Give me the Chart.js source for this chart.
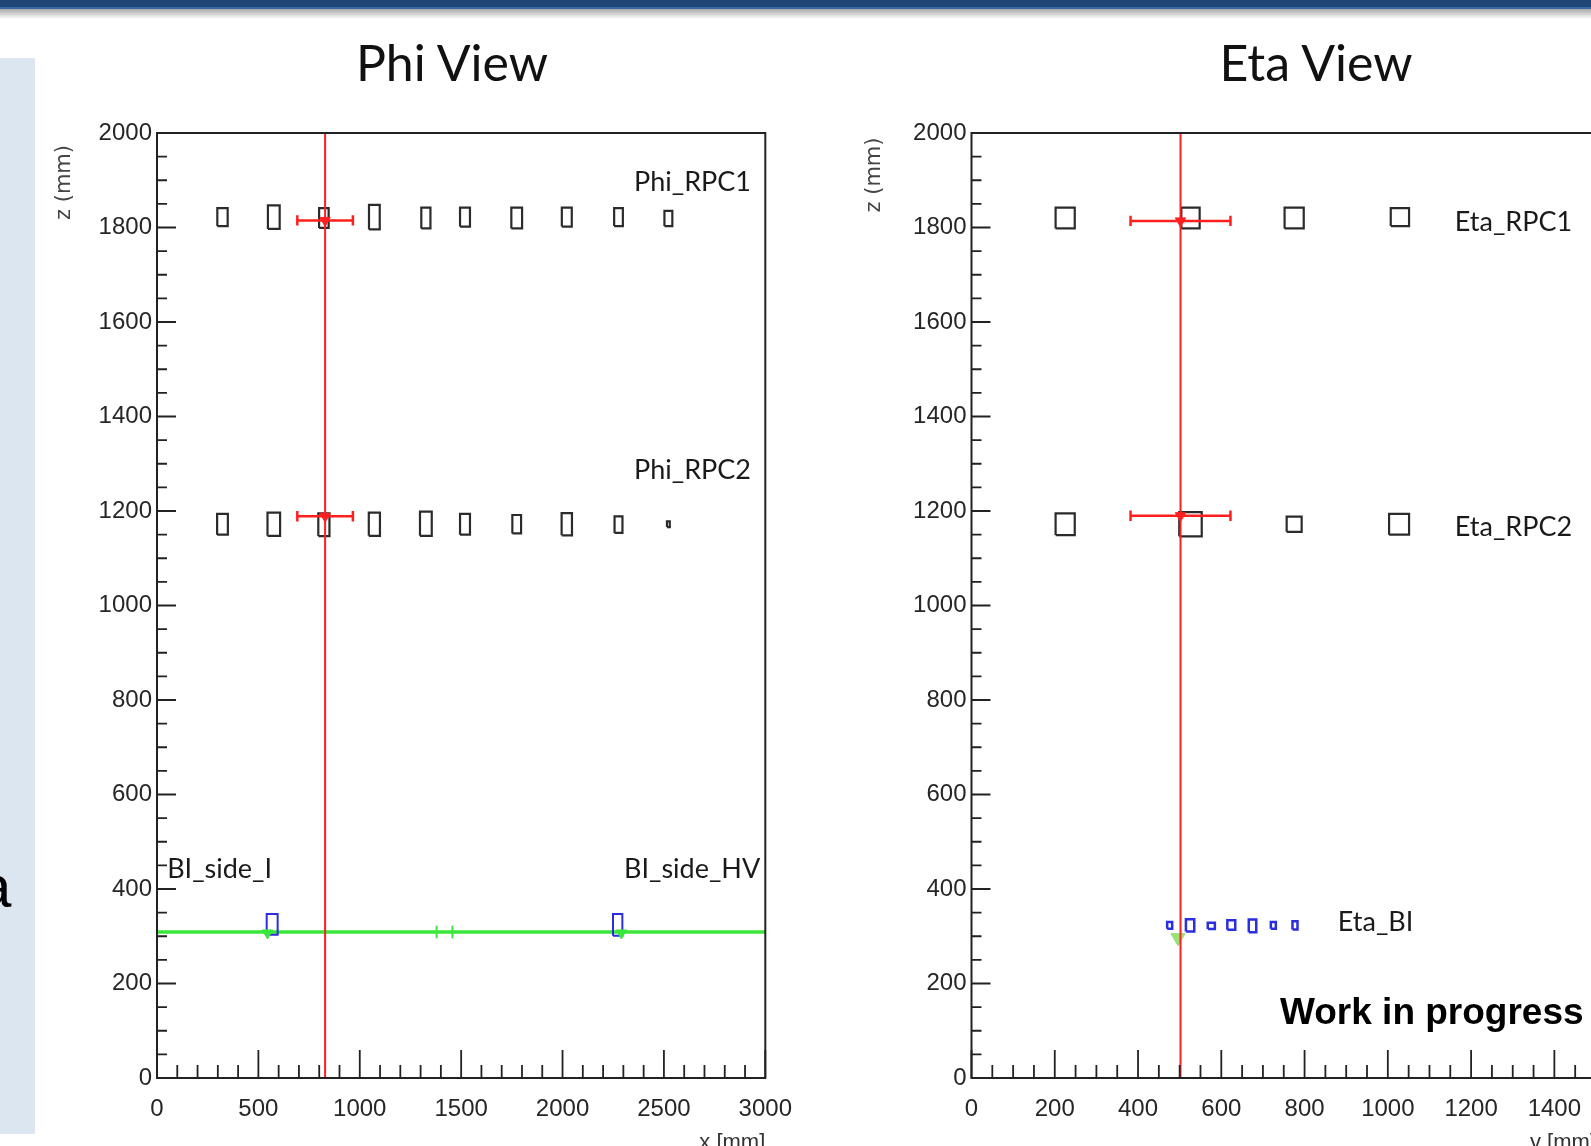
<!DOCTYPE html>
<html>
<head>
<meta charset="utf-8">
<script src="https://cdn.jsdelivr.net/npm/chart.js@4.4.1/dist/chart.umd.min.js"></script>
<style>
  html, body { margin: 0; padding: 0; width: 1591px; height: 1146px; overflow: hidden; background: #fff; }
  #topbar { position: absolute; left: 0; top: 0; width: 100%; height: 7px; background: #1f4677; border-bottom: 2px solid #3a67a5; }
  #shade { position: absolute; left: 0; top: 9px; width: 100%; height: 10px; background: linear-gradient(#a8a8a8, #ffffff); }
  #sidepanel { position: absolute; left: 0; top: 58px; width: 35px; height: 1076px; background: #dce6f1; }
  #sideword { position: absolute; left: -22px; top: 857px; font: 60px "Liberation Sans", Arial, sans-serif; line-height: 1; color: #000; z-index: 3; }
  .view-title { position: absolute; top: 37px; font: 50px Lato, "Open Sans", sans-serif; line-height: 1; color: #111; transform: translateX(-50%); white-space: nowrap; z-index: 3; }
  canvas { position: absolute; top: 0; filter: blur(0.4px); }
  #phiChart { left: 0; }
  #etaChart { left: 800px; }
  #wip { position: absolute; left: 1280px; top: 993px; font: bold 37px "Liberation Sans", Arial, sans-serif; line-height: 1; color: #000; white-space: nowrap; z-index: 3; }
</style>
</head>
<body>
<div id="topbar"></div>
<div id="shade"></div>
<div id="sidepanel"></div>
<div id="sideword">a</div>
<div class="view-title" style="left:452px">Phi View</div>
<div class="view-title" style="left:1316px">Eta View</div>
<canvas id="phiChart" width="809" height="1160"></canvas>
<canvas id="etaChart" width="850" height="1160"></canvas>
<div id="wip">Work in progress</div>
<script>
// ----------------------------------------------------
// PHI VIEW DATA (x vs z, mm)
// ----------------------------------------------------
const phiRpc1X = [323, 576, 823, 1072, 1326, 1519, 1774, 2021, 2276, 2522];
const phiRpc1Z = [1822, 1822, 1820, 1822, 1820, 1822, 1820, 1822, 1822, 1819];
const phiRpc1W = [51, 58, 47, 53, 45, 49, 53, 49, 43, 39];
const phiRpc1H = [38, 50, 42, 52, 44, 40, 44, 40, 38, 32];

const phiRpc2X = [323, 576, 823, 1072, 1326, 1519, 1774, 2021, 2276, 2522];
const phiRpc2Z = [1172, 1172, 1171, 1172, 1173, 1172, 1172, 1172, 1171, 1172];
const phiRpc2W = [53, 62, 55, 55, 58, 49, 43, 51, 39, 14];
const phiRpc2H = [44, 49, 48, 49, 51, 44, 39, 47, 35, 12];

const phiBiX = [568, 2272];
const phiBiZ = [325, 324];
const phiBiW = [54, 46];
const phiBiH = [44, 46];

const phiTrackX = 829;
const phiFitX = [829, 829];
const phiFitZ = [1815, 1189];
const phiFitErr = [137, 137];

const phiBeamZ = 309;
const phiBeamHitX = [545, 2290];
const phiBeamHitZ = [307, 307];
const phiBeamErrX = [1418];
const phiBeamErr = [39];

// ----------------------------------------------------
// ETA VIEW DATA (y vs z, mm)
// ----------------------------------------------------
const etaRpc1X = [225, 526, 775, 1029];
const etaRpc1Z = [1820, 1820, 1820, 1822];
const etaRpc1W = [46, 44, 46, 44];
const etaRpc1H = [44, 44, 44, 38];

const etaRpc2X = [225, 526, 775, 1027];
const etaRpc2Z = [1172, 1172, 1172, 1172];
const etaRpc2W = [46, 54, 36, 48];
const etaRpc2H = [46, 51, 32, 44];

const etaBiX = [476, 525, 576, 624, 675, 725, 777];
const etaBiZ = [323, 323, 322, 324, 322, 323, 323];
const etaBiW = [12, 20, 17, 19, 18, 12, 12];
const etaBiH = [14, 26, 13, 20, 27, 14, 17];

const etaTrackX = 502;
const etaFitX = [502, 502];
const etaFitZ = [1814, 1190];
const etaFitErr = [120, 120];

const etaBeamHitX = [496];
const etaBeamHitZ = [297];

// Axis ranges / tick steps
const zRange = [0, 2000];
const phiXRange = [0, 3000];
const etaXRange = [0, 1500];

// Text annotations anchored in data coords
const phiNotes = [
  { text: 'Phi_RPC1', x: 2353, z: 1896 },
  { text: 'Phi_RPC2', x: 2353, z: 1287 },
  { text: 'BI_side_I', x: 50, z: 441 },
  { text: 'BI_side_HV', x: 2303, z: 441 }
];
const etaNotes = [
  { text: 'Eta_RPC1', x: 1161, z: 1812 },
  { text: 'Eta_RPC2', x: 1161, z: 1165 },
  { text: 'Eta_BI', x: 880, z: 329 }
];

// ----------------------------------------------------
// HELPERS
// ----------------------------------------------------
const GAP = { x: NaN, y: NaN };

function boxOutlines(xs, zs, ws, hs) {
  const pts = [];
  xs.forEach((x, i) => {
    const hw = ws[i] / 2, hh = hs[i] / 2, z = zs[i];
    pts.push({ x: x - hw, y: z - hh }, { x: x + hw, y: z - hh }, { x: x + hw, y: z + hh },
             { x: x - hw, y: z + hh }, { x: x - hw, y: z - hh }, GAP);
  });
  return pts;
}

function errorBars(xs, zs, errs, cap) {
  const pts = [];
  xs.forEach((x, i) => {
    const z = zs[i], lo = x - errs[i], hi = x + errs[i];
    pts.push({ x: lo, y: z }, { x: hi, y: z }, GAP,
             { x: lo, y: z - cap }, { x: lo, y: z + cap }, GAP,
             { x: hi, y: z - cap }, { x: hi, y: z + cap }, GAP);
  });
  return pts;
}

function points(xs, zs) {
  return xs.map((x, i) => ({ x: x, y: zs[i] }));
}

function outline(data, color, width) {
  return { data, showLine: true, borderColor: color, borderWidth: width, pointRadius: 0, borderJoinStyle: 'miter', tension: 0 };
}

function markers(data, color, radius) {
  return { data, pointStyle: 'triangle', rotation: 180, pointRadius: radius, backgroundColor: color, borderColor: color, borderWidth: 1 };
}

// ROOT-style frame, inward ticks, text labels
const rootFrame = {
  id: 'rootFrame',
  afterDatasetsDraw(chart, args, opts) {
    const { ctx, chartArea: a, scales: { x, y } } = chart;
    ctx.save();
    ctx.strokeStyle = '#222';
    ctx.lineWidth = 2;
    ctx.strokeRect(a.left, a.top, a.right - a.left, a.bottom - a.top);

    ctx.lineWidth = 1.8;
    ctx.beginPath();
    y.ticks.forEach(t => {
      const py = y.getPixelForValue(t.value);
      const len = t.value % opts.yMajor === 0 ? 19 : 10;
      ctx.moveTo(a.left, py); ctx.lineTo(a.left + len, py);
    });
    x.ticks.forEach(t => {
      const px = x.getPixelForValue(t.value);
      const len = t.value % opts.xMajor === 0 ? 28 : 13;
      ctx.moveTo(px, a.bottom); ctx.lineTo(px, a.bottom - len);
    });
    ctx.stroke();

    ctx.fillStyle = '#1a1a1a';
    ctx.font = '27px Lato, "Open Sans", sans-serif';
    ctx.textAlign = 'left';
    ctx.textBaseline = 'middle';
    opts.notes.forEach(n => ctx.fillText(n.text, x.getPixelForValue(n.x), y.getPixelForValue(n.z)));

    // z axis title, top-aligned like ROOT
    ctx.font = '21px "DejaVu Sans", sans-serif';
    ctx.fillStyle = '#444';
    ctx.textAlign = 'center';
    ctx.translate(a.left + opts.titleDx, a.top + opts.titleDy);
    ctx.rotate(-Math.PI / 2);
    ctx.fillText('z (mm)', 0, 0);
    ctx.restore();
  }
};

function stepTicks(step) {
  return scale => {
    const ticks = [];
    for (let v = scale.min; v <= scale.max + 1e-6; v += step) ticks.push({ value: v });
    scale.ticks = ticks;
  };
}

function makeChart(canvasId, cfg) {
  return new Chart(document.getElementById(canvasId), {
    type: 'scatter',
    data: { datasets: cfg.datasets },
    options: {
      responsive: false,
      animation: false,
      devicePixelRatio: 1,
      layout: { padding: cfg.padding },
      plugins: {
        legend: { display: false },
        tooltip: { enabled: false },
        rootFrame: { xMajor: cfg.xMajor, yMajor: 200, notes: cfg.notes, titleDx: cfg.titleDx, titleDy: cfg.titleDy }
      },
      scales: {
        x: {
          type: 'linear', min: cfg.xRange[0], max: cfg.xRange[1],
          afterBuildTicks: stepTicks(cfg.xMinor),
          afterFit: s => { s.height = 78; },
          grid: { display: false, drawTicks: false },
          border: { display: false },
          ticks: { autoSkip: false, maxRotation: 0, padding: 17, color: '#262626',
                   font: { family: '"Liberation Sans", Arial, sans-serif', size: 24 },
                   callback: v => (v % cfg.xMajor === 0 ? v : '') },
          title: { display: true, text: cfg.xTitle, align: 'end', padding: 0, color: '#333',
                   font: { family: '"Liberation Sans", Arial, sans-serif', size: 22 } }
        },
        y: {
          type: 'linear', min: zRange[0], max: zRange[1],
          afterBuildTicks: stepTicks(50),
          afterFit: s => { s.width = 100; },
          grid: { display: false, drawTicks: false },
          border: { display: false },
          ticks: { autoSkip: false, padding: 5, color: '#262626',
                   font: { family: '"Liberation Sans", Arial, sans-serif', size: 24 },
                   callback: v => (v % 200 === 0 ? v : '') }
        }
      }
    },
    plugins: [rootFrame]
  });
}

const RED = '#ff1f1f', BLACK = '#2b2b2b', BLUE = '#2a2ee0', GREEN = '#3ae63a';

makeChart('phiChart', {
  xRange: phiXRange, xMinor: 100, xMajor: 500, xTitle: 'x [mm]',
  padding: { left: 57, right: 35, top: 133, bottom: 4 },
  notes: phiNotes, titleDx: -92.5, titleDy: 49.5,
  datasets: [
    markers(points(phiFitX, phiFitZ), RED, 6),
    outline(errorBars(phiFitX, phiFitZ, phiFitErr, 11), RED, 2.5),
    outline([{ x: phiTrackX, y: zRange[0] }, { x: phiTrackX, y: zRange[1] }], RED, 2),
    markers(points(phiBeamHitX, phiBeamHitZ), GREEN, 6),
    outline(boxOutlines(phiBiX, phiBiZ, phiBiW, phiBiH), BLUE, 2),
    outline(errorBars(phiBeamErrX, [phiBeamZ], phiBeamErr, 13), GREEN, 2),
    outline([{ x: phiXRange[0], y: phiBeamZ }, { x: phiXRange[1], y: phiBeamZ }], GREEN, 3.5),
    outline(boxOutlines(phiRpc1X, phiRpc1Z, phiRpc1W, phiRpc1H), BLACK, 2.2),
    outline(boxOutlines(phiRpc2X, phiRpc2Z, phiRpc2W, phiRpc2H), BLACK, 2.2)
  ]
});

makeChart('etaChart', {
  xRange: etaXRange, xMinor: 50, xMajor: 200, xTitle: 'y [mm]',
  padding: { left: 71.5, right: 54, top: 133, bottom: 4 },
  notes: etaNotes, titleDx: -97, titleDy: 42,
  datasets: [
    markers(points(etaFitX, etaFitZ), RED, 6),
    outline(errorBars(etaFitX, etaFitZ, etaFitErr, 11), RED, 2.5),
    outline([{ x: etaTrackX, y: zRange[0] }, { x: etaTrackX, y: zRange[1] }], RED, 2),
    markers(points(etaBeamHitX, etaBeamHitZ), 'rgba(120, 215, 80, 0.75)', 8),
    outline(boxOutlines(etaBiX, etaBiZ, etaBiW, etaBiH), BLUE, 2.5),
    outline(boxOutlines(etaRpc1X, etaRpc1Z, etaRpc1W, etaRpc1H), BLACK, 2.2),
    outline(boxOutlines(etaRpc2X, etaRpc2Z, etaRpc2W, etaRpc2H), BLACK, 2.2)
  ]
});
</script>
</body>
</html>
